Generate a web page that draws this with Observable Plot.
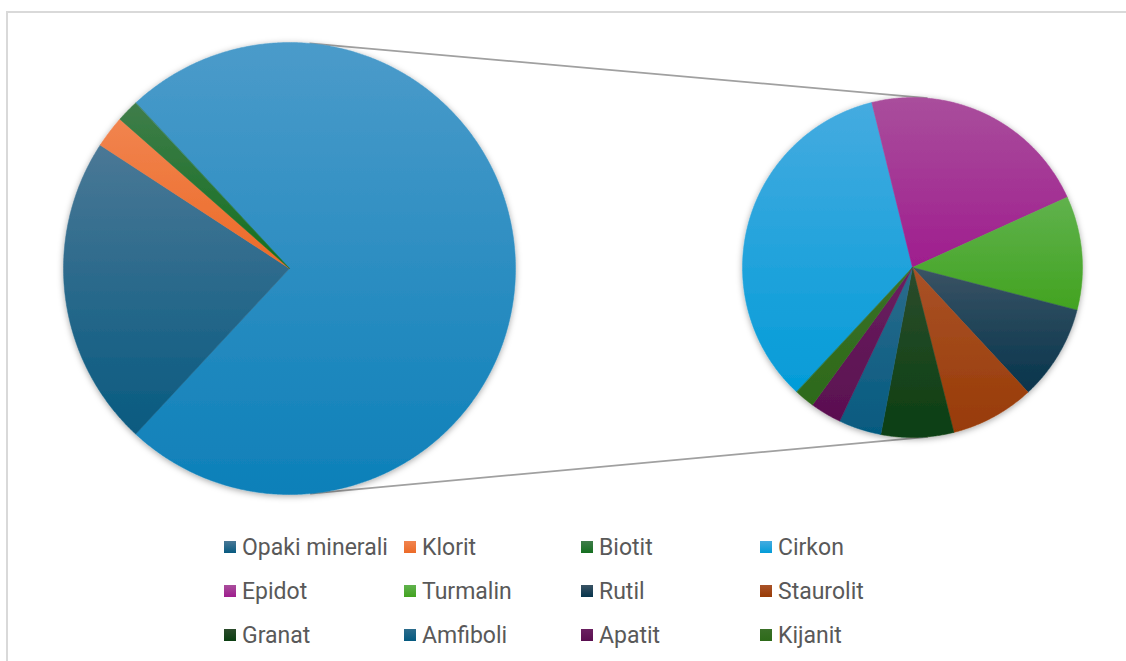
<!DOCTYPE html>
<html>
<head>
<meta charset="utf-8">
<script src="https://cdn.jsdelivr.net/npm/d3@7"></script>
<script src="https://cdn.jsdelivr.net/npm/@observablehq/plot@0.6"></script>
<style>
  html, body { margin: 0; padding: 0; background: #fff; }
  body { width: 1126px; height: 661px; overflow: hidden; position: relative;
         font-family: Roboto, "Open Sans", sans-serif; }
  #frame { position: absolute; left: 6px; top: 11px; width: 1200px; height: 720px;
           border: 2px solid #d9d9d9; box-sizing: border-box; pointer-events: none; }
  #chart { position: absolute; left: 0; top: 0; }
  #legend { position: absolute; left: 224px; top: 525px; display: grid;
            grid-template-columns: 180px 177px 179px 179px; grid-auto-rows: 44px;
            font-size: 23px; color: #595959; }
  .item { display: flex; align-items: center; gap: 6px; white-space: nowrap; }
  .sw { width: 12px; height: 12px; flex: none; }
</style>
</head>
<body>
<div id="chart"></div>
<div id="legend"></div>
<div id="frame"></div>
<script>
// Heavy mineral composition (%): the first pie holds the three main groups
// plus the summed remainder, which the second pie breaks down.
const firstPie = ["Opaki minerali", "Klorit", "Biotit"];
const firstValues = [22.3, 2.3, 1.6];
const secondPie = ["Cirkon", "Epidot", "Turmalin", "Rutil", "Staurolit", "Granat", "Amfiboli", "Apatit", "Kijanit"];
const secondValues = [25.3, 16.3, 8.0, 6.7, 5.9, 5.1, 3.0, 2.2, 1.4];
const restKey = "Ostalo";

// Gradient palette: [top, bottom] per category
const palette = {
  "Ostalo": ["#4b9bca", "#0d80b9"],
  "Opaki minerali": ["#4a7896", "#085a80"],
  "Klorit": ["#f1844f", "#ec6a27"],
  "Biotit": ["#3f7d4a", "#146f1f"],
  "Cirkon": ["#45abe0", "#039cd8"],
  "Epidot": ["#a94e9c", "#9f1d8e"],
  "Turmalin": ["#60b24d", "#42a320"],
  "Rutil": ["#3a5364", "#06344c"],
  "Staurolit": ["#a95228", "#983b06"],
  "Granat": ["#2c4c2c", "#0b3f12"],
  "Amfiboli": ["#2c6c8c", "#055a80"],
  "Apatit": ["#6a2060", "#5a0f50"],
  "Kijanit": ["#3a7028", "#2d6a19"]
};

// Layout
const W = 1126, H = 525;
const big = {cx: 289, cy: 268, r: 226};
const small = {cx: 912, cy: 267, r: 170};
const smallStart = 222.9 * Math.PI / 180;

const deg = Math.PI / 180;
const restTotal = d3.sum(secondValues);
const total = d3.sum(firstValues) + restTotal;

// First pie: the remainder slice is centred on the right-hand side
const firstData = [{key: restKey, value: restTotal}, ...firstPie.map((k, i) => ({key: k, value: firstValues[i]}))];
const restSpan = restTotal / total * 2 * Math.PI;
const firstArcs = d3.pie().sort(null).value(d => d.value)
  .startAngle(Math.PI / 2 - restSpan / 2).endAngle(Math.PI / 2 - restSpan / 2 + 2 * Math.PI)(firstData);

const secondData = secondPie.map((k, i) => ({key: k, value: secondValues[i]}));
const secondArcs = d3.pie().sort(null).value(d => d.value)
  .startAngle(smallStart).endAngle(smallStart + 2 * Math.PI)(secondData);

// Sample each slice outline (centre + arc) as a closed polygon
function slicePoints(arcs, c) {
  const pts = [];
  for (const a of arcs) {
    const key = a.data.key;
    pts.push({key, x: c.cx, y: c.cy});
    const n = Math.max(2, Math.ceil((a.endAngle - a.startAngle) / (0.4 * deg)));
    for (let j = 0; j <= n; j++) {
      const t = a.startAngle + (a.endAngle - a.startAngle) * j / n;
      pts.push({key, x: c.cx + c.r * Math.sin(t), y: c.cy - c.r * Math.cos(t)});
    }
  }
  return pts;
}
const slices = [...slicePoints(firstArcs, big), ...slicePoints(secondArcs, small)];

// Outer tangent connectors between the two pies
const dx = small.cx - big.cx, dy = small.cy - big.cy, d = Math.hypot(dx, dy);
const ux = dx / d, uy = dy / d, s = (big.r - small.r) / d, c = Math.sqrt(1 - s * s);
const connectors = [-1, 1].map(side => {
  const nx = s * ux - side * c * uy;
  const ny = s * uy + side * c * ux;
  return {x1: big.cx + big.r * nx, y1: big.cy + big.r * ny, x2: small.cx + small.r * nx, y2: small.cy + small.r * ny};
});

const keys = [restKey, ...firstPie, ...secondPie];
const gradId = k => "grad-" + keys.indexOf(k);

const chart = Plot.plot({
  width: W, height: H,
  margin: 0,
  x: {domain: [0, W], range: [0, W], axis: null},
  y: {domain: [0, H], range: [0, H], axis: null},
  color: {domain: keys, range: keys.map(k => `url(#${gradId(k)})`)},
  marks: [
    Plot.link(connectors, {x1: "x1", y1: "y1", x2: "x2", y2: "y2", stroke: "#a0a0a0", strokeWidth: 1.75}),
    Plot.line(slices, {x: "x", y: "y", z: "key", fill: "key", stroke: "key", strokeWidth: 0.5, curve: "linear-closed"})
  ]
});

// Gradients and the soft shadow under the pies
const svg = d3.select(chart);
const defs = svg.insert("defs", ":first-child");
for (const k of keys) {
  const g = defs.append("linearGradient").attr("id", gradId(k))
    .attr("x1", 0).attr("y1", 0).attr("x2", 0).attr("y2", 1);
  g.append("stop").attr("offset", "0%").attr("stop-color", palette[k][0]);
  g.append("stop").attr("offset", "100%").attr("stop-color", palette[k][1]);
}
const f = defs.append("filter").attr("id", "shadow")
  .attr("x", "-10%").attr("y", "-10%").attr("width", "120%").attr("height", "120%");
f.append("feDropShadow").attr("dx", 0).attr("dy", 1.5).attr("stdDeviation", 3)
  .attr("flood-color", "#000").attr("flood-opacity", 0.35);
svg.selectAll('g[aria-label="line"]').attr("filter", "url(#shadow)");

document.getElementById("chart").appendChild(chart);

// Legend
const legend = d3.select("#legend");
for (const k of [...firstPie, ...secondPie]) {
  const it = legend.append("div").attr("class", "item");
  it.append("div").attr("class", "sw")
    .style("background", `linear-gradient(${palette[k][0]}, ${palette[k][1]})`);
  it.append("span").text(k);
}
</script>
</body>
</html>
